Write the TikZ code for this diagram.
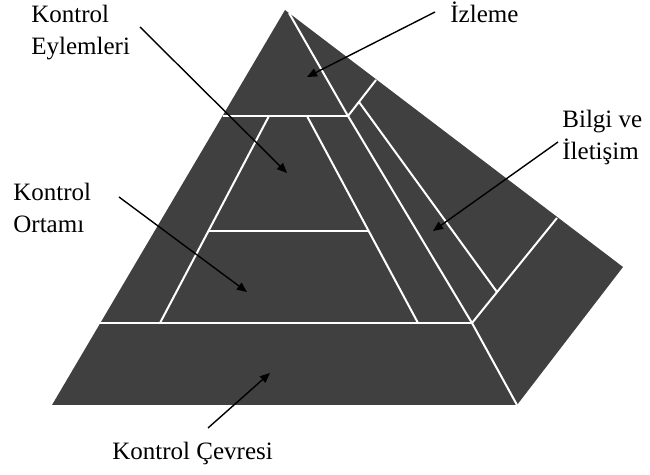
\documentclass[tikz,border=0pt]{standalone}
\usepackage{fontspec}
\setmainfont{Liberation Serif}
\usepackage{tikz}
\usetikzlibrary{arrows.meta}

\begin{document}
\begin{tikzpicture}[x=0.5pt, y=-0.5pt,
    label text/.style={inner sep=0pt, align=left, font=\fontsize{12.5pt}{15.8pt}\selectfont},
    seam/.style={draw=white, line width=1pt},
    pointer/.style={-{Triangle[length=5pt, width=4.2pt]}, line width=0.7pt}]
    \useasboundingbox (0,0) rectangle (650,475);

    \coordinate (apex) at (285,10);
    \coordinate (left base) at (52,405);
    \coordinate (right base) at (517,405);
    \coordinate (side corner) at (623,267);
    \fill[black!75] (apex) -- (side corner) -- (right base) -- (left base) -- cycle;

    \coordinate (ridge top) at (289,13);
    \coordinate (ridge a) at (348,116);
    \coordinate (ridge b) at (472,323);
    \draw[seam] (ridge top) -- (ridge a) -- (ridge b) -- (right base);

    \draw[seam] (223,116) -- (ridge a);
    \draw[seam] (100,323) -- (ridge b);
    \draw[seam] (269,116) -- (160,323);
    \draw[seam] (307,116) -- (418,323);
    \draw[seam] (209,231) -- (369,231);
    \draw[seam] (ridge a) -- (376,80);
    \draw[seam] (ridge b) -- (557,218);
    \draw[seam] (359,102) -- (497,292);

    \node[label text, anchor=north west] (eylem) at (31,5) {Kontrol\\Eylemleri};
    \node[label text, anchor=north west] (ortam) at (13,183) {Kontrol\\Ortamı};
    \node[label text, anchor=base west] (izleme) at (450,23) {İzleme};
    \node[label text, anchor=north west] (bilgi) at (562,110) {Bilgi ve\\İletişim};
    \node[label text, anchor=base west] (cevre) at (112,460) {Kontrol Çevresi};

    \coordinate (eylem tail) at (140,27);
    \coordinate (eylem tip) at (287,173);
    \coordinate (ortam tail) at (119,197);
    \coordinate (ortam tip) at (247,292);
    \coordinate (izleme tail) at (435,12);
    \coordinate (izleme tip) at (307,77);
    \coordinate (bilgi tail) at (558,142);
    \coordinate (bilgi tip) at (433,231);
    \coordinate (cevre tail) at (208,428);
    \coordinate (cevre tip) at (270,373);

    \draw[pointer] (eylem tail) -- (eylem tip);
    \draw[pointer] (ortam tail) -- (ortam tip);
    \draw[pointer] (izleme tail) -- (izleme tip);
    \draw[pointer] (bilgi tail) -- (bilgi tip);
    \draw[pointer] (cevre tail) -- (cevre tip);
\end{tikzpicture}
\end{document}
